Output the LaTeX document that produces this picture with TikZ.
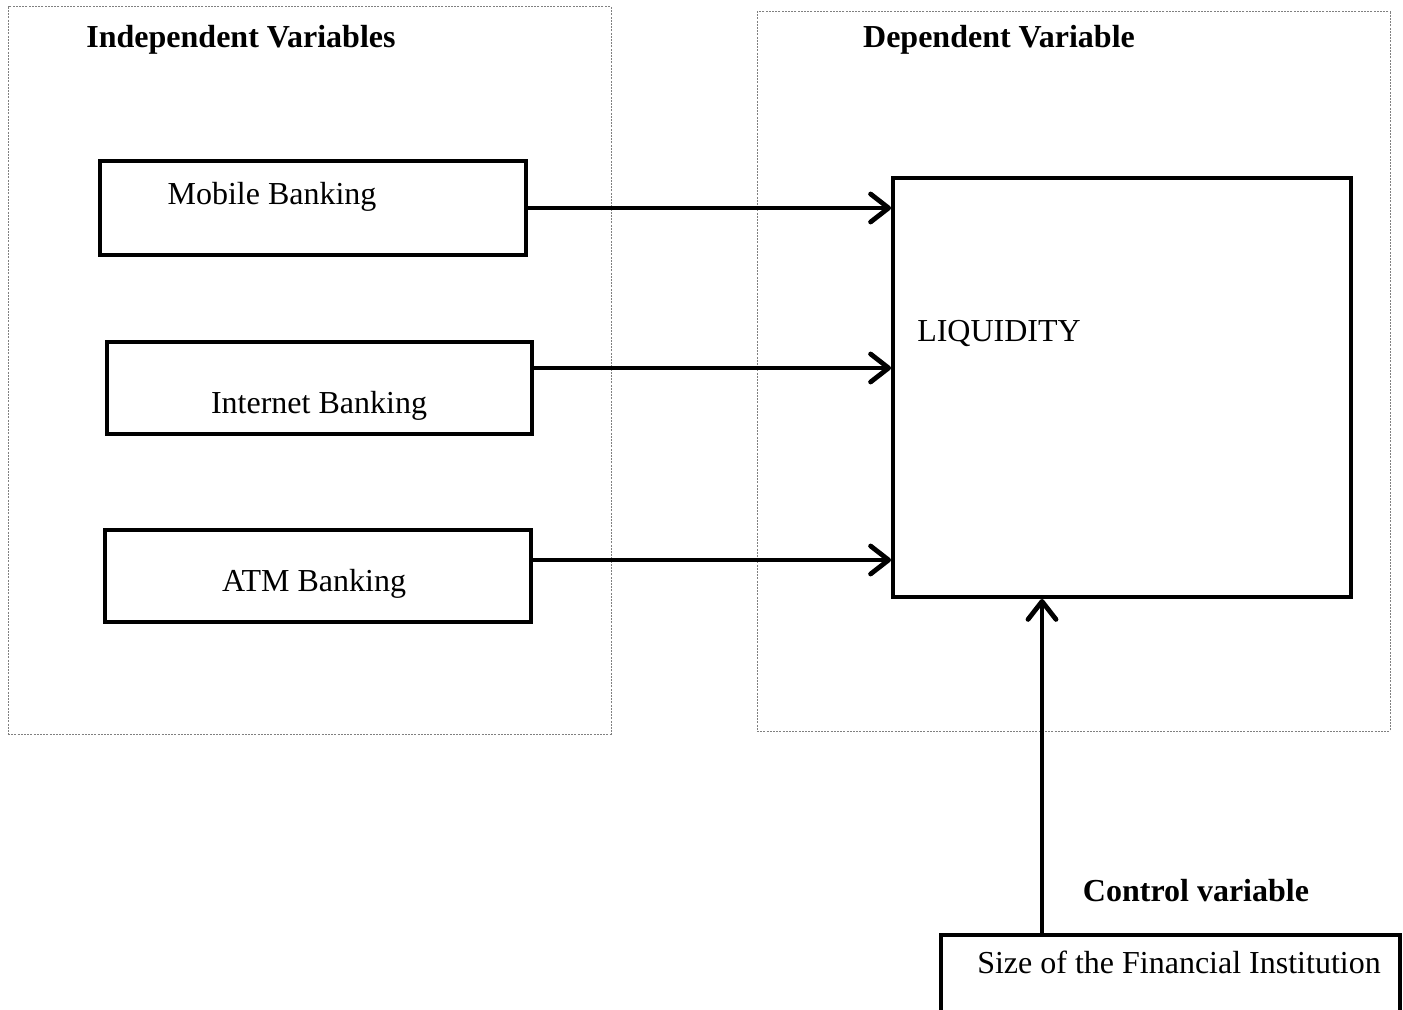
\documentclass[tikz,border=0pt]{standalone}
\usepackage{fontspec}
\setmainfont{Liberation Serif}
\usetikzlibrary{arrows.meta}
\usetikzlibrary{positioning}

\begin{document}
\begin{tikzpicture}[->, >={Straight Barb[round,length=9pt,width=14pt]}, x=0.5pt, y=-0.5pt, line width=2pt, font=\fontsize{16}{19}\selectfont]
\tikzstyle{frame}=[draw=gray, line width=0.5pt, dash pattern=on 1pt off 0.6pt, inner sep=0pt]
\tikzstyle{var}=[draw=black, line width=2pt, inner sep=0pt]
\tikzstyle{title}=[font=\fontsize{16}{19}\selectfont\bfseries]
\tikzstyle{link}=[line width=2.4pt]
\useasboundingbox (0,0) rectangle (1403,1010);

% dotted groups
\node[frame, minimum width=301.5pt, minimum height=363.5pt] (a) at (309.5,370.5) {};
\node[frame, minimum width=316.5pt, minimum height=359.5pt] (b) at (1073.5,371.5) {};
\node[title] (ta) at (241,40) {Independent Variables};
\node[title] (tb) at (999,40) {Dependent Variable};

% boxes
\node[var, minimum width=213pt, minimum height=47pt]    (1) at (313,208) {};
\node[var, minimum width=212.5pt, minimum height=46pt]  (2) at (319.5,388) {};
\node[var, minimum width=213pt, minimum height=46pt]    (3) at (318,576) {};
\node[var, minimum width=229pt, minimum height=209.5pt] (4) at (1122,387.5) {};
\node[var, minimum width=229.5pt, minimum height=75pt]  (5) at (1170.5,1010) {};

\node (t1) at (272,197) {Mobile Banking};
\node (t2) at (319,406) {Internet Banking};
\node (t3) at (314,584) {ATM Banking};
\node (t4) at (999,334) {LIQUIDITY};
\node[title] (tc) at (1196,891) {Control variable};
\node (t5) at (1179,962) {Size of the Financial Institution};

\draw[link] (1.east) -- (1.east -| 4.west);
\draw[link] ([yshift=10pt]2.east) -- ([yshift=10pt]2.east -| 4.west);
\draw[link] ([yshift=8pt]3.east) -- ([yshift=8pt]3.east -| 4.west);
\draw[link] ([xshift=-64.25pt]5.north) -- ([xshift=-64.25pt]5.north |- 4.south);
\end{tikzpicture}
\end{document}
